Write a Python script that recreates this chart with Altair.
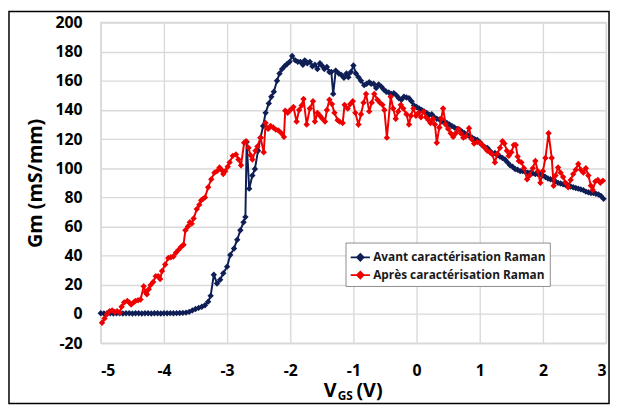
import altair as alt
import pandas as pd

# ---- data (VGS in V, Gm in mS/mm) ----
avant = [
    (-5.00, 0.5), (-4.95, 0.4), (-4.90, 0.5), (-4.85, 0.5), (-4.80, 0.4), (-4.75, 0.5),
    (-4.70, 0.5), (-4.65, 0.4), (-4.60, 0.5), (-4.55, 0.5), (-4.50, 0.4), (-4.45, 0.5),
    (-4.40, 0.5), (-4.35, 0.4), (-4.30, 0.5), (-4.25, 0.5), (-4.20, 0.4), (-4.15, 0.5),
    (-4.10, 0.5), (-4.05, 0.4), (-4.00, 0.5), (-3.95, 0.5), (-3.90, 0.6), (-3.85, 0.5),
    (-3.80, 0.6), (-3.75, 0.7), (-3.70, 0.8), (-3.65, 1.0), (-3.60, 1.5), (-3.55, 2.5),
    (-3.50, 3.5), (-3.45, 4.2), (-3.40, 5.0), (-3.35, 6.0), (-3.30, 8.5), (-3.26, 12.5),
    (-3.21, 27.0), (-3.16, 21.0), (-3.11, 23.5), (-3.06, 28.0), (-3.00, 32.5), (-2.95, 40.5),
    (-2.89, 45.0), (-2.84, 51.0), (-2.79, 57.5), (-2.74, 63.0), (-2.71, 66.5), (-2.69, 118.0),
    (-2.65, 86.0), (-2.60, 95.0), (-2.56, 99.5), (-2.51, 112.0), (-2.47, 121.0), (-2.43, 129.0),
    (-2.39, 138.0), (-2.34, 144.5), (-2.30, 149.0), (-2.26, 152.5), (-2.21, 160.0), (-2.17, 165.0),
    (-2.13, 168.0), (-2.09, 170.0), (-2.05, 171.5), (-2.01, 173.0), (-1.97, 177.0), (-1.92, 174.0),
    (-1.88, 173.0), (-1.84, 173.0), (-1.80, 171.0), (-1.77, 174.0), (-1.73, 172.0), (-1.69, 173.0),
    (-1.65, 170.0), (-1.61, 171.0), (-1.57, 168.0), (-1.53, 172.0), (-1.50, 170.5), (-1.46, 168.0),
    (-1.42, 169.5), (-1.38, 166.0), (-1.35, 166.0), (-1.32, 151.0), (-1.28, 167.0), (-1.23, 165.0),
    (-1.19, 164.0), (-1.15, 162.0), (-1.11, 165.0), (-1.08, 162.5), (-1.04, 166.0), (-1.00, 170.5),
    (-0.96, 165.0), (-0.92, 162.5), (-0.88, 160.0), (-0.83, 157.0), (-0.79, 158.0), (-0.75, 159.0),
    (-0.72, 158.0), (-0.68, 158.0), (-0.64, 155.0), (-0.60, 157.5), (-0.56, 156.0), (-0.52, 154.0),
    (-0.48, 152.5), (-0.44, 152.0), (-0.40, 151.0), (-0.36, 151.5), (-0.32, 150.0), (-0.28, 148.0),
    (-0.24, 147.0), (-0.20, 149.0), (-0.16, 148.5), (-0.12, 148.0), (-0.08, 146.0), (-0.04, 143.0),
    (0.00, 142.0), (0.04, 141.0), (0.08, 140.0), (0.12, 139.0), (0.16, 138.0), (0.20, 136.5),
    (0.24, 137.0), (0.28, 135.0), (0.32, 134.0), (0.36, 133.5), (0.40, 132.0), (0.44, 132.0),
    (0.48, 131.0), (0.52, 130.0), (0.56, 129.0), (0.60, 128.0), (0.64, 127.0), (0.68, 126.5),
    (0.72, 125.0), (0.76, 124.0), (0.80, 123.0), (0.84, 122.0), (0.88, 121.0), (0.92, 120.0),
    (0.96, 119.5), (1.00, 118.0), (1.04, 116.0), (1.08, 114.5), (1.12, 114.0), (1.16, 112.0),
    (1.20, 110.0), (1.24, 110.5), (1.28, 109.0), (1.32, 108.0), (1.36, 107.0), (1.40, 106.0),
    (1.44, 104.0), (1.48, 102.0), (1.52, 101.0), (1.56, 99.5), (1.60, 99.0), (1.64, 98.0),
    (1.68, 98.0), (1.72, 97.5), (1.76, 97.0), (1.80, 97.0), (1.84, 96.5), (1.88, 96.0),
    (1.92, 96.0), (1.96, 96.0), (2.00, 95.0), (2.04, 94.0), (2.08, 93.0), (2.12, 92.5),
    (2.16, 92.0), (2.20, 91.0), (2.24, 90.0), (2.28, 89.5), (2.32, 89.0), (2.36, 88.5),
    (2.40, 88.0), (2.44, 87.5), (2.48, 87.0), (2.52, 86.5), (2.56, 86.0), (2.60, 85.5),
    (2.64, 85.0), (2.68, 84.0), (2.72, 83.5), (2.76, 83.0), (2.80, 83.0), (2.84, 82.5),
    (2.88, 82.0), (2.92, 81.0), (2.96, 79.0),
]

apres = [
    (-4.98, -6.0), (-4.94, -3.0), (-4.90, 0.0), (-4.86, 2.0), (-4.82, 2.5), (-4.78, 1.5),
    (-4.74, 2.0), (-4.70, 1.0), (-4.67, 5.0), (-4.63, 8.0), (-4.58, 9.0), (-4.55, 8.0),
    (-4.52, 6.5), (-4.48, 8.0), (-4.45, 9.0), (-4.41, 9.5), (-4.37, 10.0), (-4.32, 19.0),
    (-4.29, 15.0), (-4.27, 13.5), (-4.24, 17.0), (-4.21, 20.0), (-4.17, 22.0), (-4.13, 26.0),
    (-4.09, 26.0), (-4.06, 24.0), (-4.03, 29.5), (-3.98, 34.0), (-3.93, 38.5), (-3.89, 39.0),
    (-3.85, 39.5), (-3.81, 42.0), (-3.77, 44.0), (-3.73, 46.0), (-3.69, 47.5), (-3.66, 57.5),
    (-3.62, 60.0), (-3.59, 63.0), (-3.56, 62.0), (-3.53, 65.5), (-3.48, 72.0), (-3.44, 75.0),
    (-3.41, 78.0), (-3.38, 79.0), (-3.35, 80.0), (-3.30, 87.0), (-3.25, 92.5), (-3.20, 97.0),
    (-3.16, 98.0), (-3.12, 100.5), (-3.09, 99.0), (-3.06, 96.0), (-3.03, 98.0), (-2.99, 101.0),
    (-2.96, 104.0), (-2.91, 108.5), (-2.86, 109.5), (-2.82, 106.0), (-2.78, 102.0), (-2.73, 117.5),
    (-2.70, 118.5), (-2.66, 114.0), (-2.63, 109.0), (-2.60, 106.0), (-2.55, 112.0), (-2.52, 115.0),
    (-2.47, 121.0), (-2.42, 111.0), (-2.39, 131.0), (-2.35, 127.0), (-2.31, 129.0), (-2.27, 128.0),
    (-2.23, 126.5), (-2.19, 126.0), (-2.14, 124.0), (-2.10, 121.5), (-2.08, 139.5), (-2.04, 138.0),
    (-2.00, 140.0), (-1.95, 142.0), (-1.90, 132.0), (-1.86, 140.0), (-1.82, 143.0), (-1.79, 147.5),
    (-1.74, 130.0), (-1.69, 141.0), (-1.64, 146.0), (-1.61, 132.0), (-1.57, 138.0), (-1.53, 136.0),
    (-1.49, 134.0), (-1.45, 132.0), (-1.42, 140.0), (-1.38, 147.0), (-1.34, 144.0), (-1.30, 138.0),
    (-1.25, 133.0), (-1.22, 132.0), (-1.17, 131.0), (-1.14, 143.5), (-1.09, 141.0), (-1.05, 144.0),
    (-1.01, 146.0), (-0.97, 138.0), (-0.92, 130.0), (-0.88, 137.0), (-0.84, 145.0), (-0.80, 151.0),
    (-0.75, 139.0), (-0.71, 145.0), (-0.67, 151.0), (-0.62, 147.0), (-0.58, 145.0), (-0.54, 143.5),
    (-0.51, 140.0), (-0.47, 121.0), (-0.41, 149.0), (-0.37, 141.0), (-0.33, 134.0), (-0.29, 139.0),
    (-0.25, 143.5), (-0.21, 141.0), (-0.16, 137.0), (-0.12, 130.0), (-0.09, 136.0), (-0.05, 141.0),
    (-0.01, 136.0), (0.03, 138.0), (0.07, 135.0), (0.11, 139.0), (0.15, 135.0), (0.19, 133.0),
    (0.22, 131.0), (0.26, 134.0), (0.29, 130.0), (0.32, 117.5), (0.36, 128.0), (0.39, 134.0),
    (0.42, 141.0), (0.46, 130.0), (0.50, 127.0), (0.54, 124.0), (0.58, 121.5), (0.62, 124.0),
    (0.66, 127.0), (0.70, 124.0), (0.74, 121.0), (0.78, 122.0), (0.83, 127.5), (0.87, 120.0),
    (0.91, 117.0), (0.96, 118.0), (1.00, 117.5), (1.04, 116.0), (1.08, 114.0), (1.12, 112.0),
    (1.16, 111.0), (1.20, 109.5), (1.24, 104.0), (1.28, 110.0), (1.32, 114.0), (1.36, 118.5),
    (1.39, 117.0), (1.43, 112.0), (1.46, 108.5), (1.50, 111.0), (1.54, 116.0), (1.57, 116.0),
    (1.60, 108.0), (1.62, 105.0), (1.66, 104.0), (1.70, 100.0), (1.75, 92.5), (1.79, 95.0),
    (1.84, 100.0), (1.88, 105.0), (1.92, 98.0), (1.96, 90.0), (2.00, 98.0), (2.04, 107.0),
    (2.09, 124.0), (2.14, 107.0), (2.17, 88.0), (2.20, 95.0), (2.24, 100.5), (2.28, 97.0),
    (2.32, 94.0), (2.36, 90.0), (2.40, 87.0), (2.44, 92.0), (2.48, 96.0), (2.52, 99.0),
    (2.56, 103.0), (2.60, 99.0), (2.64, 97.0), (2.68, 100.0), (2.72, 95.0), (2.76, 88.0),
    (2.79, 85.0), (2.83, 91.0), (2.87, 92.0), (2.91, 90.0), (2.95, 91.5),
]

series_names = ["Avant caractérisation Raman", "Après caractérisation Raman"]
series_colors = ["#0f1f55", "#ee0000"]
x_ticks = [-5, -4, -3, -2, -1, 0, 1, 2, 3]
y_ticks = [-20, 0, 20, 40, 60, 80, 100, 120, 140, 160, 180, 200]

df_av = pd.DataFrame({"VGS": [p[0] for p in avant], "Gm": [p[1] for p in avant],
                      "Serie": series_names[0]})
df_ap = pd.DataFrame({"VGS": [p[0] for p in apres], "Gm": [p[1] for p in apres],
                      "Serie": series_names[1]})

W, H = 512, 325
FONT = "Open Sans"

legend_symbol = "M-1,0L1,0M0,-0.36L0.36,0L0,0.36L-0.36,0Z"
plain_label = "'' + datum.value"  # hyphen-minus like the original, not U+2212

x_enc = alt.X("VGS:Q", scale=alt.Scale(domain=[-5, 3], nice=False),
              axis=alt.Axis(values=x_ticks, title=None, labelExpr=plain_label))
y_enc = alt.Y("Gm:Q", scale=alt.Scale(domain=[-20, 200], nice=False),
              axis=alt.Axis(values=y_ticks, title="Gm (mS/mm)", labelExpr=plain_label))
color_enc = alt.Color(
    "Serie:N",
    scale=alt.Scale(domain=series_names, range=series_colors),
    legend=alt.Legend(
        title=None, orient="none", legendX=248, legendY=223,
        symbolType=legend_symbol, symbolSize=380, symbolStrokeWidth=1.6,
        labelFont=FONT, labelFontSize=12, labelFontWeight="bold", labelColor="#1a1a1a",
        labelOffset=2, rowPadding=0, padding=4,
        strokeColor="#8c8c8c", fillColor="white", labelLimit=400,
    ),
)


def series_layers(df):
    line = alt.Chart(df).mark_line(strokeWidth=2).encode(x=x_enc, y=y_enc, color=color_enc)
    pts = alt.Chart(df).mark_point(filled=True, shape="diamond", size=42, opacity=1).encode(
        x=x_enc, y=y_enc, color=color_enc)
    return [line, pts]


one = alt.Data(values=[{"k": 1}])

frame = alt.Chart(one).mark_rect(fillOpacity=0, stroke="black", strokeWidth=1.5, clip=False).encode(
    x=alt.value(-93), x2=alt.value(W + 3), y=alt.value(-11), y2=alt.value(H + 61))

t_v = alt.Chart(one).mark_text(font=FONT, fontSize=20, fontWeight="bold", align="left",
                               baseline="alphabetic", color="black").encode(
    x=alt.value(226), y=alt.value(H + 55), text=alt.value("V"))
t_gs = alt.Chart(one).mark_text(font=FONT, fontSize=12, fontWeight="bold", align="left",
                                baseline="alphabetic", color="black").encode(
    x=alt.value(240), y=alt.value(H + 58), text=alt.value("GS"))
t_unit = alt.Chart(one).mark_text(font=FONT, fontSize=20, fontWeight="bold", align="left",
                                  baseline="alphabetic", color="black").encode(
    x=alt.value(259), y=alt.value(H + 55), text=alt.value("(V)"))

layers = series_layers(df_av) + series_layers(df_ap) + [t_v, t_gs, t_unit, frame]

chart = alt.layer(*layers).properties(
    width=W, height=H,
    autosize=alt.AutoSizeParams(type="none"),
    padding={"left": 94, "top": 12, "right": 5, "bottom": 63},
    background="white",
).configure_axis(
    grid=True, gridColor="#d9d9d9", gridWidth=1.4, domain=False, ticks=False, tickSize=0,
    labelFont=FONT, labelFontSize=16, labelFontWeight="bold", labelColor="black",
    titleFont=FONT, titleFontSize=20, titleFontWeight="bold", titleColor="black",
).configure_axisX(labelPadding=20).configure_axisY(labelPadding=19, titlePadding=10).configure_view(
    stroke="#d9d9d9", strokeWidth=1.4
)

chart.save("out.html", embed_options={"renderer": "svg", "actions": False})
